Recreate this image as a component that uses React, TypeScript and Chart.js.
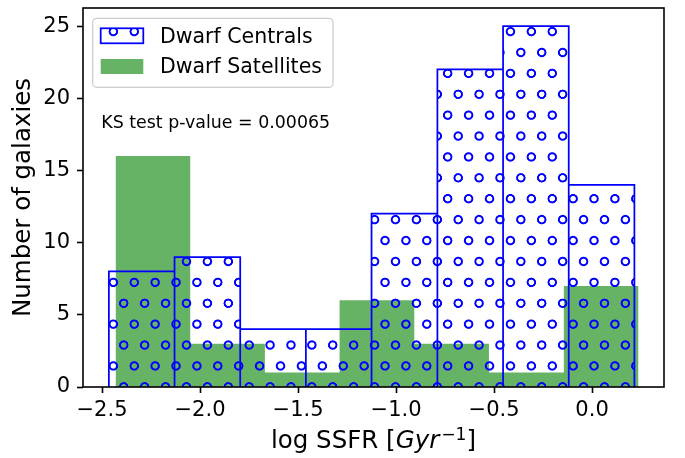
import React, { useEffect, useRef } from 'react';
import { Chart, registerables } from 'chart.js';

Chart.register(...registerables);

// ---- data ----
const centralEdges = [-2.465, -2.130, -1.795, -1.460, -1.125, -0.789, -0.454, -0.119, 0.216];
const centralCounts = [8, 9, 4, 4, 12, 22, 25, 14];
const satelliteEdges = [-2.431, -2.050, -1.669, -1.288, -0.907, -0.526, -0.144, 0.237];
const satelliteCounts = [16, 3, 1, 6, 3, 1, 7];
const xTickValues = [-2.5, -2.0, -1.5, -1.0, -0.5, 0.0];
const yTickValues = [0, 5, 10, 15, 20, 25];
const seriesLabels = ['Dwarf Centrals', 'Dwarf Satellites'];
const annotationText = 'KS test p-value = 0.00065';
const yAxisTitle = 'Number of galaxies';
const xAxisTitleParts = ['log SSFR [', 'Gyr', '\u22121', ']'];
const xLimits = [-2.597, 0.367];
const yLimits = [0, 26.25];

const FONT = "'DejaVu Sans'";
const BLUE = '#0000ff';
const GREEN = 'rgba(0,128,0,0.6)';

function histSteps(edges: number[], counts: number[]) {
  const pts: { x: number; y: number }[] = [];
  counts.forEach((c, i) => {
    pts.push({ x: edges[i], y: 0 }, { x: edges[i], y: c }, { x: edges[i + 1], y: c }, { x: edges[i + 1], y: 0 });
  });
  return pts;
}

function makeHatch(ctx: CanvasRenderingContext2D) {
  const P = 20.9;
  const S = 2;
  const tile = document.createElement('canvas');
  tile.width = 21 * S;
  tile.height = 42 * S;
  const t = tile.getContext('2d')!;
  t.strokeStyle = BLUE;
  t.lineWidth = 2.0 * S;
  const centers = [[0, 0], [21, 0], [0, 42], [21, 42], [10.5, 21]];
  for (const [cx, cy] of centers) {
    t.beginPath();
    t.arc(cx * S, cy * S, 3.8 * S, 0, Math.PI * 2);
    t.stroke();
  }
  const pat = ctx.createPattern(tile, 'repeat')!;
  pat.setTransform(new DOMMatrix().translate(113.3, 282.3).scale(P / (21 * S)));
  return pat;
}

function roundRect(ctx: CanvasRenderingContext2D, x: number, y: number, w: number, h: number, r: number) {
  ctx.beginPath();
  ctx.moveTo(x + r, y);
  ctx.lineTo(x + w - r, y);
  ctx.arcTo(x + w, y, x + w, y + r, r);
  ctx.lineTo(x + w, y + h - r);
  ctx.arcTo(x + w, y + h, x + w - r, y + h, r);
  ctx.lineTo(x + r, y + h);
  ctx.arcTo(x, y + h, x, y + h - r, r);
  ctx.lineTo(x, y + r);
  ctx.arcTo(x, y, x + r, y, r);
  ctx.closePath();
}

const overlayPlugin = {
  id: 'overlay',
  afterDatasetsDraw(chart: any) {
    const { ctx, chartArea: a } = chart;
    const ds = chart.data.datasets;
    ctx.save();
    // frame
    ctx.strokeStyle = '#000';
    ctx.lineWidth = 1.6;
    ctx.strokeRect(a.left, a.top, a.right - a.left, a.bottom - a.top);

    // legend
    const bx = a.left + 9.7;
    const by = a.top + 10.3;
    const bw = 240.3;
    const bh = 69;
    roundRect(ctx, bx, by, bw, bh, 4);
    ctx.fillStyle = 'rgba(255,255,255,0.8)';
    ctx.fill();
    ctx.strokeStyle = '#cccccc';
    ctx.lineWidth = 1.2;
    ctx.stroke();

    const hx = bx + 8;
    const hw = 42.6;
    const hh = 15;
    const rows = [by + 10, by + 40.7];
    // hatched handle
    ctx.fillStyle = ds[0].backgroundColor;
    ctx.fillRect(hx, rows[0], hw, hh);
    ctx.strokeStyle = ds[0].borderColor;
    ctx.lineWidth = 1.75;
    ctx.strokeRect(hx, rows[0], hw, hh);
    // filled handle
    ctx.fillStyle = ds[1].backgroundColor;
    ctx.fillRect(hx, rows[1], hw, hh);

    ctx.fillStyle = '#000';
    ctx.font = `20.5px ${FONT}`;
    ctx.textAlign = 'left';
    ctx.textBaseline = 'alphabetic';
    ctx.fillText(ds[0].label, bx + 67.3, by + 25);
    ctx.fillText(ds[1].label, bx + 67.3, by + 55);

    // annotation
    ctx.font = `17.4px ${FONT}`;
    ctx.fillText(annotationText, a.left + 18.3, a.top + 119.7);
    ctx.restore();
  },
  afterDraw(chart: any) {
    const { ctx, chartArea: a } = chart;
    const fs = 24.5;
    const parts = [
      { t: xAxisTitleParts[0], f: `${fs}px ${FONT}`, dy: 0 },
      { t: xAxisTitleParts[1], f: `italic ${fs}px ${FONT}`, dy: 0 },
      { t: xAxisTitleParts[2], f: `${(fs * 0.7).toFixed(2)}px ${FONT}`, dy: -0.34 * fs },
      { t: xAxisTitleParts[3], f: `${fs}px ${FONT}`, dy: 0 },
    ];
    ctx.save();
    ctx.fillStyle = '#000';
    ctx.textAlign = 'left';
    ctx.textBaseline = 'alphabetic';
    let total = 0;
    const widths = parts.map((p) => {
      ctx.font = p.f;
      const w = ctx.measureText(p.t).width;
      total += w;
      return w;
    });
    total += 2;
    let x = (a.left + a.right) / 2 - total / 2;
    const baseY = 448;
    parts.forEach((p, i) => {
      ctx.font = p.f;
      ctx.fillText(p.t, x, baseY + p.dy);
      x += widths[i] + (i === 1 ? 2 : 0);
    });
    ctx.restore();
  },
};

export default function App() {
  const ref = useRef<HTMLCanvasElement | null>(null);

  useEffect(() => {
    document.body.style.margin = '0';
    const canvas = ref.current!;
    const ctx = canvas.getContext('2d')!;
    Chart.defaults.color = '#000';
    Chart.defaults.font.family = FONT;
    const hatch = makeHatch(ctx);

    const gridOpts = {
      display: true,
      drawOnChartArea: false,
      drawTicks: true,
      tickLength: 6,
      tickWidth: 1.6,
      tickColor: '#000',
    };

    const chart = new Chart(canvas, {
      type: 'line',
      data: {
        datasets: [
          {
            label: seriesLabels[0],
            data: histSteps(centralEdges, centralCounts),
            borderColor: BLUE,
            borderWidth: 1.75,
            backgroundColor: hatch as any,
            fill: 'origin',
            pointRadius: 0,
            tension: 0,
            borderJoinStyle: 'miter',
          },
          {
            label: seriesLabels[1],
            data: histSteps(satelliteEdges, satelliteCounts),
            borderColor: 'rgba(0,0,0,0)',
            borderWidth: 0,
            backgroundColor: GREEN,
            fill: 'origin',
            pointRadius: 0,
            tension: 0,
          },
        ],
      },
      options: {
        animation: false,
        responsive: false,
        devicePixelRatio: 1,
        layout: { padding: { left: 0, right: 21, top: 8, bottom: 0 } },
        plugins: { legend: { display: false }, tooltip: { enabled: false } },
        scales: {
          x: {
            type: 'linear',
            min: xLimits[0],
            max: xLimits[1],
            afterBuildTicks: (s: any) => {
              s.ticks = xTickValues.map((v) => ({ value: v }));
            },
            afterFit: (s: any) => {
              s.height = 71;
              s.paddingLeft = 0;
              s.paddingRight = 0;
            },
            grid: gridOpts,
            border: { display: false },
            ticks: {
              autoSkip: false,
              maxRotation: 0,
              padding: 5,
              color: '#000',
              font: { size: 21, family: FONT },
              callback: (v: any) => (Number(v) < 0 ? '\u2212' : '') + Math.abs(Number(v)).toFixed(1),
            },
          },
          y: {
            type: 'linear',
            min: yLimits[0],
            max: yLimits[1],
            afterBuildTicks: (s: any) => {
              s.ticks = yTickValues.map((v) => ({ value: v }));
            },
            afterFit: (s: any) => {
              s.width = 83;
              s.paddingTop = 0;
              s.paddingBottom = 0;
            },
            grid: gridOpts,
            border: { display: false },
            ticks: {
              autoSkip: false,
              padding: 7,
              color: '#000',
              font: { size: 21, family: FONT },
              callback: (v: any) => String(v),
            },
            title: {
              display: true,
              text: yAxisTitle,
              color: '#000',
              font: { size: 24.5, family: FONT },
              padding: { top: 8.5, bottom: 0 },
            },
          },
        },
      },
      plugins: [overlayPlugin],
    });
    return () => chart.destroy();
  }, []);

  return (
    <div style={{ width: 685, height: 458 }}>
      <canvas ref={ref} width={685} height={458} style={{ display: 'block' }} />
    </div>
  );
}
